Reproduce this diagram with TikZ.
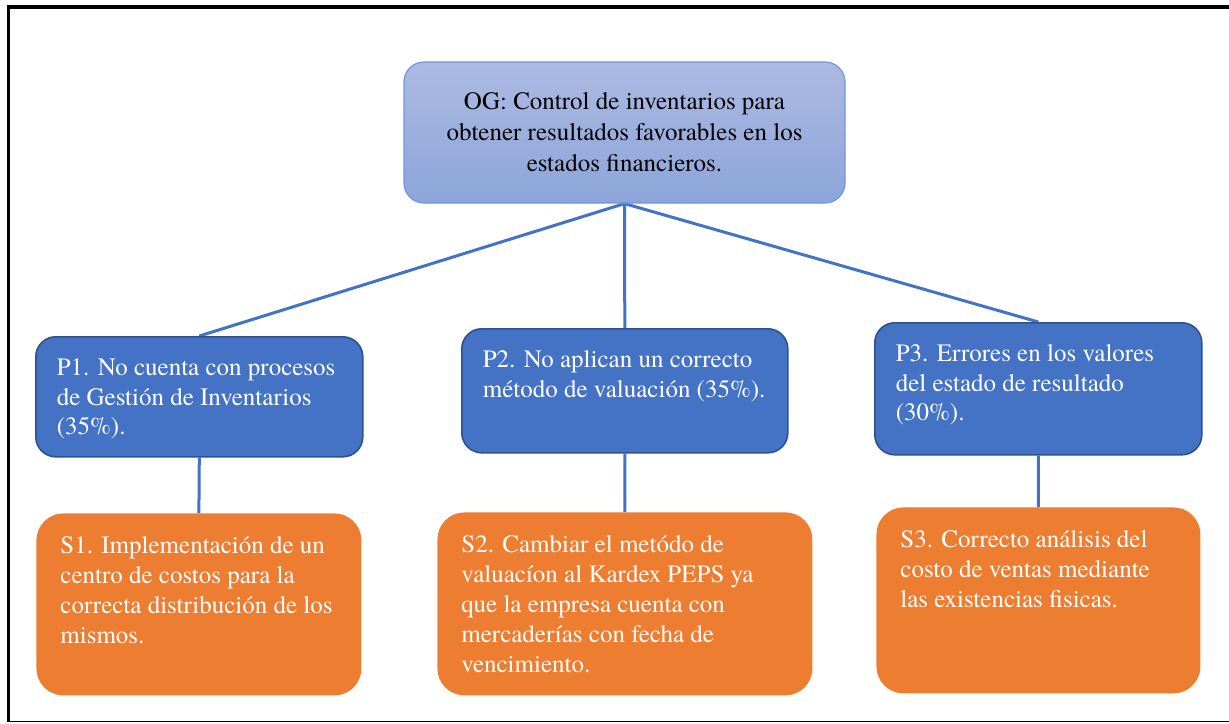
\documentclass[tikz,border=0pt]{standalone}
\usepackage{fontspec}
\setmainfont{TeX Gyre Termes}
\usepackage{tikz}
\usetikzlibrary{backgrounds}
\definecolor{goaltop}{HTML}{ABBAE2}
\definecolor{goalbot}{HTML}{8DA5DA}
\definecolor{goalline}{HTML}{7396DB}
\definecolor{probblue}{HTML}{4472C4}
\definecolor{probline}{HTML}{2F528F}
\definecolor{solorange}{HTML}{ED7D31}
\newcommand{\boxtext}[3]{\parbox[c][#2][t]{#1}{\raggedright #3}}
\tikzstyle{goalnode} = [draw=goalline, line width=0.6pt, top color=goaltop, bottom color=goalbot, rounded corners=10pt, minimum width=220.5pt, minimum height=70.5pt, align=center, font=\fontsize{12.5}{15.5}\selectfont]
\tikzstyle{probnode} = [draw=probline, line width=0.8pt, fill=probblue, rounded corners=10pt, text=white, anchor=north west, inner xsep=10.5pt, inner ysep=11pt, font=\fontsize{12.5}{14.75}\selectfont]
\tikzstyle{solnode} = [fill=solorange, rounded corners=13.5pt, text=white, anchor=north west, inner xsep=12pt, inner ysep=11.5pt, font=\fontsize{12.5}{15}\selectfont]
\tikzstyle{link} = [line width=1.5pt, color=probblue]

\begin{document}
\begin{tikzpicture}[x=0.5pt, y=-0.5pt]
    \useasboundingbox (0,0) rectangle (1229,723);
    % frame
    \draw [line width=2pt] (7,7) -- (1229,7);
    \draw [line width=1.5pt] (8.5,5) -- (8.5,722);
    \draw [line width=0.6pt] (7,721.5) -- (1229,721.5);

    \node (og) [goalnode] at (624.5,132.5) {OG: Control de inventarios para\\ obtener resultados favorables en los\\ estados financieros.};

    \node (p1) [probnode] at (35,336) {\boxtext{142.5pt}{38pt}{P1. No cuenta con procesos\\ de Gestión de Inventarios\\ (35\%).}};
    \node (p2) [probnode] at (461,328) {\boxtext{142pt}{40pt}{P2. No aplican un correcto\\ método de valuación (35\%).}};
    \node (p3) [probnode] at (874,322) {\boxtext{142.5pt}{44pt}{P3. Errores en los valores\\ del estado de resultado\\ (30\%).}};

    \node (s1) [solnode] at (36,513) {\boxtext{138.5pt}{68pt}{S1. Implementación de un\\ centro de costos para la\\ correcta distribución de los\\ mismos.}};
    \node (s2) [solnode] at (437,512) {\boxtext{163.5pt}{68.5pt}{S2. Cambiar el metódo de\\ valuacíon al Kardex PEPS ya\\ que la empresa cuenta con\\ mercaderías con fecha de\\ vencimiento.}};
    \node (s3) [solnode] at (876,507) {\boxtext{138pt}{70pt}{S3. Correcto análisis del\\ costo de ventas mediante\\ las existencias fisicas.}};

    \begin{scope}[on background layer]
        \draw [link] (og.south) -- (p1.north);
        \draw [link] (og.south) -- (p2.north);
        \draw [link] (og.south) -- (p3.north);
        \draw [link] (p1.south) -- (s1.north);
        \draw [link] (p2.south) -- (s2.north);
        \draw [link] (p3.south) -- (s3.north);
    \end{scope}
\end{tikzpicture}
\end{document}
